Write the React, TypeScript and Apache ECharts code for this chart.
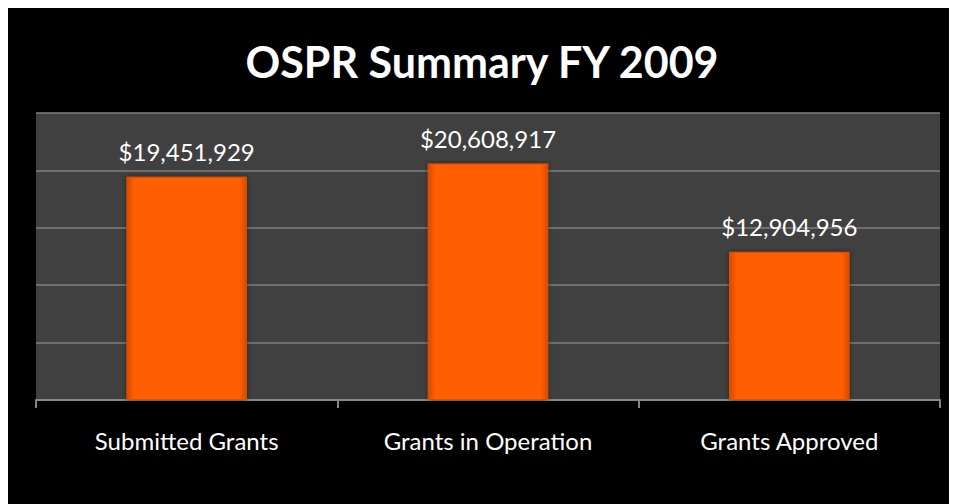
import React, { useEffect, useRef } from "react";
import * as echarts from "echarts";

const categories = ["Submitted Grants", "Grants in Operation", "Grants Approved"];
const values = [19451929, 20608917, 12904956];
const titleText = "OSPR Summary FY 2009";

const fmt = (v: number) => "$" + v.toLocaleString("en-US");

export default function App() {
  const ref = useRef<HTMLDivElement>(null);
  useEffect(() => {
    if (!ref.current) return;
    const chart = echarts.init(ref.current, null, { renderer: "svg" });
    chart.setOption({
      animation: false,
      backgroundColor: "#000000",
      title: {
        text: titleText,
        left: "center",
        top: 27,
        textStyle: { color: "#ffffff", fontSize: 43, fontWeight: "bold", fontFamily: "Lato" },
      },
      grid: {
        left: 29,
        right: 17,
        top: 105,
        bottom: 104,
        show: true,
        backgroundColor: "#404040",
        borderWidth: 0,
      },
      xAxis: {
        type: "category",
        data: categories,
        axisLine: { lineStyle: { color: "#868686", width: 2 } },
        axisTick: { show: true, length: 8, lineStyle: { color: "#868686", width: 2 } },
        axisLabel: { color: "#ffffff", fontSize: 24, fontFamily: "Lato", margin: 28 },
      },
      yAxis: {
        type: "value",
        min: 0,
        max: 25000000,
        interval: 5000000,
        axisLabel: { show: false },
        axisLine: { show: false },
        axisTick: { show: false },
        splitLine: { lineStyle: { color: "#7f7f7f", width: 1.5 } },
      },
      series: [
        {
          type: "bar",
          data: values,
          barWidth: "40%",
          itemStyle: {
            color: new echarts.graphic.LinearGradient(0, 0, 1, 0, [
              { offset: 0, color: "#d84a00" },
              { offset: 0.06, color: "#ff5e05" },
              { offset: 0.94, color: "#ff5e05" },
              { offset: 1, color: "#d84a00" },
            ]),
            borderColor: "#e25000",
            borderWidth: 1,
            shadowColor: "rgba(0,0,0,0.5)",
            shadowBlur: 4,
          },
          label: {
            show: true,
            position: "top",
            distance: 13,
            color: "#ffffff",
            fontSize: 24,
            fontFamily: "Lato",
            formatter: (p: any) => fmt(p.value),
          },
        },
      ],
    });
    return () => chart.dispose();
  }, []);
  return <div ref={ref} style={{ width: 950, height: 496, marginLeft: -1 }} />;
}
